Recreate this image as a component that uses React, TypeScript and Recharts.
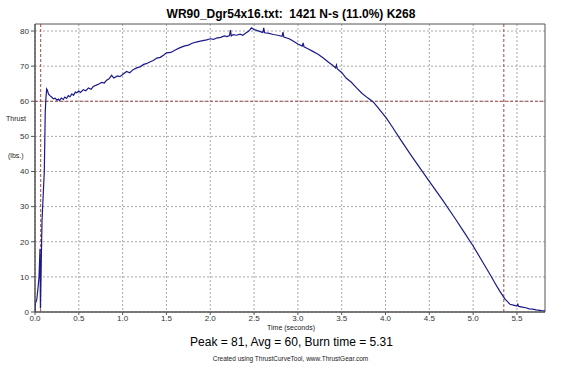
import React from "react";
import {
  LineChart,
  Line,
  XAxis,
  YAxis,
  CartesianGrid,
  ReferenceLine,
  ReferenceArea,
} from "recharts";

const title = "WR90_Dgr54x16.txt:  1421 N-s (11.0%) K268";
const summary = "Peak = 81, Avg = 60, Burn time = 5.31";
const credit = "Created using ThrustCurveTool, www.ThrustGear.com";

const xTicks = [0, 0.5, 1, 1.5, 2, 2.5, 3, 3.5, 4, 4.5, 5, 5.5];
const yTicks = [0, 10, 20, 30, 40, 50, 60, 70, 80];

const times = [
  0, 0.005, 0.02, 0.035, 0.046, 0.057, 0.062, 0.07, 0.08, 0.095, 0.106, 0.117,
  0.125, 0.133, 0.14, 0.155, 0.17, 0.19, 0.21, 0.23, 0.25, 0.266, 0.28, 0.3,
  0.323, 0.34, 0.36, 0.38, 0.4, 0.42, 0.44, 0.46, 0.475, 0.5, 0.52, 0.551,
  0.58, 0.61, 0.64, 0.665, 0.7, 0.73, 0.76, 0.79, 0.817, 0.845, 0.874, 0.9,
  0.94, 0.969, 1.0, 1.045, 1.08, 1.12, 1.16, 1.2, 1.24, 1.27, 1.31, 1.35,
  1.39, 1.43, 1.47, 1.5, 1.55, 1.6, 1.65, 1.7, 1.75, 1.8, 1.85, 1.9, 1.96,
  2.0, 2.04, 2.07, 2.12, 2.16, 2.19, 2.22, 2.23, 2.24, 2.26, 2.3, 2.34, 2.37,
  2.41, 2.44, 2.47, 2.5, 2.53, 2.56, 2.6, 2.61, 2.62, 2.66, 2.72, 2.77, 2.82,
  2.83, 2.84, 2.9, 2.94, 3.0, 3.05, 3.06, 3.07, 3.12, 3.17, 3.23, 3.29, 3.35,
  3.4, 3.43, 3.44, 3.45, 3.5, 3.55, 3.61, 3.67, 3.73, 3.8, 3.86, 3.93, 4.01,
  4.08, 4.16, 4.3, 4.5, 4.65, 4.8, 4.9, 5.0, 5.1, 5.2, 5.25, 5.3, 5.36, 5.42,
  5.47, 5.5, 5.51, 5.52, 5.56, 5.6, 5.64, 5.68, 5.72, 5.78, 5.82,
];

const thrust = [
  0, 2.5, 3.5, 7, 10, 18, 1, 12, 26, 34, 40, 57, 61, 63.5, 63.2, 62, 61.6,
  61.2, 60.7, 60.9, 60.3, 60.6, 60.2, 60.9, 60.5, 61.2, 60.8, 61.6, 61.3,
  62.1, 61.7, 62.6, 62.4, 62.9, 62.5, 63.3, 63.0, 63.8, 63.4, 64.2, 64.6,
  64.9, 65.4, 65.2, 66.0, 66.4, 67.4, 66.6, 67.2, 67.0, 67.6, 68.5, 68.1,
  69.0, 69.5, 69.8, 70.5, 70.7, 71.2, 71.6, 72.3, 72.5, 73.2, 73.8, 73.9,
  74.6, 75.2, 75.7, 76.0, 76.6, 76.9, 77.2, 77.5, 77.8, 77.6, 78.0, 78.2,
  78.6, 78.4, 78.7, 80.3, 78.6, 79.0, 78.8, 79.1, 78.8, 79.5, 80.0, 80.9,
  80.4, 80.2, 79.9, 79.6, 80.9, 79.5, 79.4, 79.0, 78.8, 78.5, 79.7, 78.3,
  77.8, 77.2, 76.3, 75.7, 76.6, 75.5, 74.9, 74.2, 73.4, 72.3, 71.1, 70.2,
  69.5, 70.3, 69.2, 68.2, 66.6, 65.4, 63.8, 62.3, 60.9, 59.8, 57.7, 55.2,
  52.6, 49.5, 44.3, 37.2, 31.9, 26.4, 22.6, 18.8, 14.6, 10.4, 8.2, 6.1, 3.8,
  2.2, 1.9, 1.7, 2.2, 1.6, 1.4, 1.2, 0.9, 0.8, 0.6, 0.4, 0.3,
];

const data = times.map((t, i) => ({ t, v: thrust[i] }));

const font = "'Liberation Sans', Arial, sans-serif";

export default function App() {
  return (
    <div
      style={{
        position: "absolute",
        left: 0,
        top: 0,
        width: 573,
        height: 369,
        background: "#fff",
        fontFamily: font,
      }}
    >
      <LineChart
        width={573}
        height={369}
        data={data}
        margin={{ top: 24, right: 28, bottom: 37, left: 10 }}
      >
        <CartesianGrid
          stroke="#a8a8a8"
          strokeDasharray="2 2"
          verticalValues={xTicks}
          horizontalValues={yTicks}
        />
        <XAxis
          dataKey="t"
          type="number"
          domain={[0, 5.82]}
          ticks={xTicks}
          allowDataOverflow
          height={20}
          tickFormatter={(v: number) => v.toFixed(1)}
          tick={{ fontSize: 8, fill: "#333", fontFamily: font }}
          tickSize={3}
          tickMargin={0}
          tickLine={{ stroke: "#555" }}
          axisLine={{ stroke: "#555" }}
        />
        <YAxis
          type="number"
          domain={[0, 82]}
          ticks={yTicks}
          allowDataOverflow
          width={25}
          tick={{ fontSize: 8, fill: "#333", fontFamily: font }}
          tickSize={4}
          tickLine={{ stroke: "#555" }}
          axisLine={{ stroke: "#555" }}
        />
        <ReferenceArea
          x1={0}
          x2={5.82}
          y1={0}
          y2={82}
          fill="none"
          stroke="#555"
          strokeWidth={1}
          fillOpacity={0}
        />
        <ReferenceLine y={60} stroke="#a04848" strokeDasharray="3 2" />
        <ReferenceLine x={0.065} stroke="#a04848" strokeDasharray="3 2" />
        <ReferenceLine x={5.35} stroke="#a04848" strokeDasharray="3 2" />
        <Line
          type="linear"
          dataKey="v"
          stroke="#1a1a8a"
          strokeWidth={1.2}
          dot={false}
          isAnimationActive={false}
        />
      </LineChart>
      <div
        style={{
          position: "absolute",
          left: 0,
          top: 8,
          width: 582,
          textAlign: "center",
          fontSize: 12,
          lineHeight: "12px",
          fontWeight: "bold",
          color: "#000",
          whiteSpace: "pre",
        }}
      >
        {title}
      </div>
      <div
        style={{
          position: "absolute",
          left: 6,
          top: 115,
          fontSize: 7,
          lineHeight: "7px",
          color: "#222",
        }}
      >
        Thrust
      </div>
      <div
        style={{
          position: "absolute",
          left: 8,
          top: 152,
          fontSize: 7,
          lineHeight: "7px",
          color: "#222",
        }}
      >
        (lbs.)
      </div>
      <div
        style={{
          position: "absolute",
          left: 0,
          top: 324,
          width: 582,
          textAlign: "center",
          fontSize: 7,
          lineHeight: "7px",
          color: "#222",
        }}
      >
        Time (seconds)
      </div>
      <div
        style={{
          position: "absolute",
          left: 0,
          top: 336,
          width: 583,
          textAlign: "center",
          fontSize: 12,
          lineHeight: "12px",
          color: "#000",
        }}
      >
        {summary}
      </div>
      <div
        style={{
          position: "absolute",
          left: 0,
          top: 355,
          width: 581,
          textAlign: "center",
          fontSize: 6.5,
          lineHeight: "7px",
          color: "#222",
        }}
      >
        {credit}
      </div>
    </div>
  );
}
